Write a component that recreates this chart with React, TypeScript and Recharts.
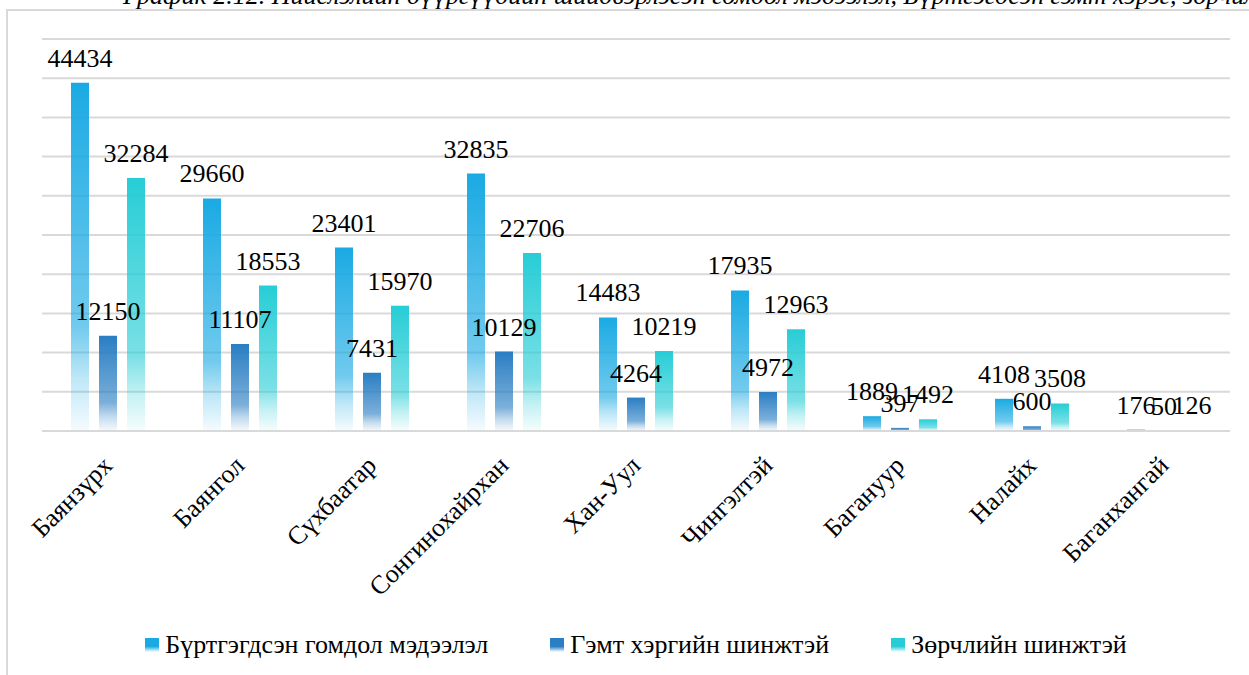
import React from "react"
import { BarChart, Bar, XAxis, YAxis, CartesianGrid, Legend, LabelList } from "recharts"

// District names (x-axis categories)
const districts = [
  "Баянзүрх",
  "Баянгол",
  "Сүхбаатар",
  "Сонгинохайрхан",
  "Хан-Уул",
  "Чингэлтэй",
  "Багануур",
  "Налайх",
  "Баганхангай",
]

// Series values
const complaints = [44434, 29660, 23401, 32835, 14483, 17935, 1889, 4108, 176]
const crimes = [12150, 11107, 7431, 10129, 4264, 4972, 397, 600, 50]
const violations = [32284, 18553, 15970, 22706, 10219, 12963, 1492, 3508, 126]

const yTicks = [0, 5000, 10000, 15000, 20000, 25000, 30000, 35000, 40000, 45000, 50000]

const series = [
  { key: "complaints", name: "Бүртгэгдсэн гомдол мэдээлэл", color: "#1aaae3" },
  { key: "crimes", name: "Гэмт хэргийн шинжтэй", color: "#2a7ec3" },
  { key: "violations", name: "Зөрчлийн шинжтэй", color: "#27cdd6" },
]

const chartData = districts.map((name, i) => ({
  name,
  complaints: complaints[i],
  crimes: crimes[i],
  violations: violations[i],
}))

// serif wanted, falls back to whatever is installed
const FONT = "'Times New Roman', Times, 'Liberation Serif', 'Noto Serif', FreeSerif, 'Nimbus Roman', 'DejaVu Serif', serif"

const CategoryTick = (props: any) => {
  const { x, y, payload } = props
  const ax = x + 6
  const ay = y + 28
  return (
    <text
      x={ax}
      y={ay}
      transform={`rotate(-45, ${ax}, ${ay})`}
      textAnchor="end"
      fontSize={26}
      style={{ fontFamily: FONT }}
      fill="#000"
    >
      {payload.value}
    </text>
  )
}

const LegendContent = () => (
  <div style={{ display: "flex", justifyContent: "center", alignItems: "center", gap: 62, paddingLeft: 0, height: 60 }}>
    {series.map((s) => (
      <div key={s.key} style={{ display: "flex", alignItems: "center" }}>
        <span
          style={{
            display: "inline-block",
            width: 14,
            height: 14,
            marginRight: 6,
            background: `linear-gradient(to bottom, ${s.color} 0%, ${s.color} 60%, #ffffff 100%)`,
          }}
        />
        <span style={{ fontFamily: FONT, fontSize: 26, color: "#000" }}>{s.name}</span>
      </div>
    ))}
  </div>
)

export default function App() {
  return (
    <div style={{ position: "absolute", left: 0, top: 0, width: 1249, height: 675, overflow: "hidden", background: "#fff" }}>
      <div
        style={{
          position: "absolute",
          left: 123,
          top: -19,
          fontFamily: FONT,
          fontStyle: "italic",
          fontSize: 26,
          whiteSpace: "nowrap",
          color: "#000",
        }}
      >
        График 2.12. Нийслэлийн дүүргүүдийн шийдвэрлэсэн гомдол мэдээлэл, Бүртгэгдсэн гэмт хэрэг, зөрчил
      </div>
      <div
        style={{
          position: "absolute",
          left: 6,
          top: 9,
          width: 1300,
          height: 700,
          borderLeft: "2px solid #d9d9d9",
          borderTop: "2px solid #d9d9d9",
        }}
      />
      <div style={{ position: "absolute", left: 0, top: 0 }}>
        <BarChart
          width={1249}
          height={675}
          data={chartData}
          margin={{ top: 39, right: 19, left: 42, bottom: 0 }}
          barSize={18}
          barGap={10}
        >
          <defs>
            {series.map((s) => (
              <linearGradient key={s.key} id={`grad-${s.key}`} x1="0" y1="0" x2="0" y2="1">
                <stop offset="0%" stopColor={s.color} stopOpacity={1} />
                <stop offset="70%" stopColor={s.color} stopOpacity={0.62} />
                <stop offset="85%" stopColor={s.color} stopOpacity={0.28} />
                <stop offset="100%" stopColor={s.color} stopOpacity={0.04} />
              </linearGradient>
            ))}
          </defs>
          <CartesianGrid horizontal={true} vertical={false} stroke="#d9d9d9" strokeWidth={2} />
          <XAxis
            dataKey="name"
            interval={0}
            height={184}
            tickLine={false}
            axisLine={{ stroke: "#d9d9d9", strokeWidth: 2 }}
            tick={<CategoryTick />}
          />
          <YAxis hide domain={[0, 50000]} ticks={yTicks} />
          <Legend verticalAlign="bottom" content={<LegendContent />} wrapperStyle={{ height: 60 }} />
          {series.map((s) => (
            <Bar key={s.key} dataKey={s.key} name={s.name} fill={`url(#grad-${s.key})`} isAnimationActive={false}>
              <LabelList
                dataKey={s.key}
                position="top"
                offset={16}
                fontSize={26}
                style={{ fontFamily: FONT }}
                fill="#000"
              />
            </Bar>
          ))}
        </BarChart>
      </div>
    </div>
  )
}
